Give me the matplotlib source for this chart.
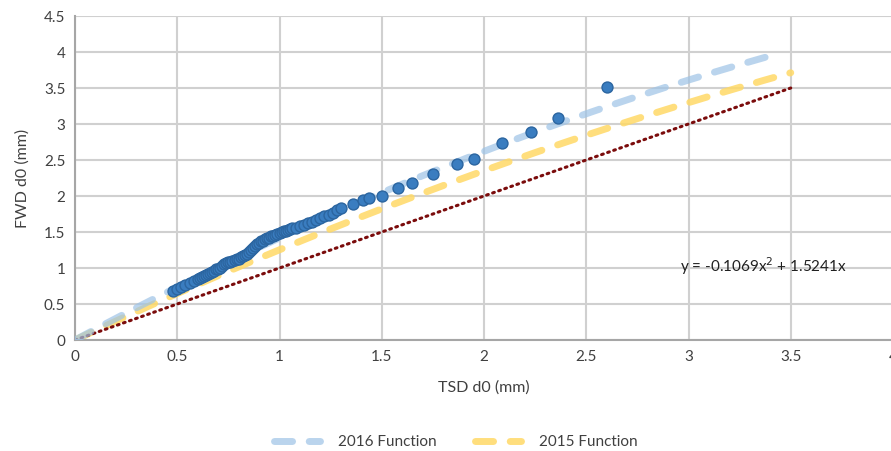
import numpy as np
import matplotlib.pyplot as plt

# TSD vs FWD central deflection (mm)
tsd_d0 = [0.48, 0.50, 0.52, 0.54, 0.56, 0.58, 0.60, 0.61, 0.62, 0.63, 0.64, 0.65,
          0.66, 0.67, 0.68, 0.69, 0.70, 0.71, 0.72, 0.73, 0.74, 0.75, 0.76, 0.77,
          0.78, 0.79, 0.80, 0.81, 0.82, 0.83, 0.84, 0.85, 0.86, 0.87, 0.88, 0.89,
          0.90, 0.91, 0.92, 0.93, 0.94, 0.95, 0.96, 0.97, 0.98, 0.99, 1.00, 1.01,
          1.02, 1.03, 1.04, 1.05, 1.06, 1.08, 1.10, 1.12, 1.14, 1.16, 1.18, 1.20,
          1.22, 1.24, 1.26, 1.28, 1.30, 1.36, 1.41, 1.44, 1.50, 1.58, 1.65, 1.75,
          1.87, 1.95, 2.09, 2.23, 2.36, 2.60]
fwd_d0 = [0.68, 0.71, 0.74, 0.76, 0.79, 0.82, 0.85, 0.86, 0.88, 0.89, 0.90, 0.92,
          0.93, 0.95, 0.96, 0.98, 0.99, 1.00, 1.03, 1.05, 1.07, 1.08, 1.09, 1.10,
          1.11, 1.12, 1.13, 1.15, 1.16, 1.18, 1.20, 1.22, 1.25, 1.28, 1.30, 1.33,
          1.35, 1.37, 1.38, 1.40, 1.41, 1.42, 1.44, 1.45, 1.46, 1.47, 1.49, 1.50,
          1.51, 1.52, 1.53, 1.54, 1.55, 1.56, 1.58, 1.60, 1.62, 1.64, 1.67, 1.70,
          1.72, 1.73, 1.76, 1.80, 1.84, 1.89, 1.95, 1.97, 2.00, 2.11, 2.18, 2.31,
          2.45, 2.52, 2.73, 2.89, 3.09, 3.52]

# quadratic functions y = a*x^2 + b*x
coef_2016 = (-0.1069, 1.5241)
coef_2015 = (-0.077, 1.33)
xmax_2016 = 3.4
xmax_2015 = 3.5
xmax_equal = 3.5

fig = plt.figure(figsize=(8.91, 4.51), dpi=100)
ax = fig.add_axes([75 / 891, 1 - 340 / 451, 818 / 891, 324 / 451])

txt = '#404040'
font = ['Lato', 'DejaVu Sans']

x16 = np.linspace(0, xmax_2016, 200)
ax.plot(x16, coef_2016[0] * x16**2 + coef_2016[1] * x16, color='#9dc3e6', alpha=0.7,
        lw=5, dashes=(2.6, 2.4), dash_capstyle='round', zorder=3, label='2016 Function')
x15 = np.linspace(0, xmax_2015, 200)
ax.plot(x15, coef_2015[0] * x15**2 + coef_2015[1] * x15, color='#ffd966', alpha=0.85,
        lw=5, dashes=(2.6, 2.4), dash_capstyle='round', zorder=2, label='2015 Function')
ax.plot([0, xmax_equal], [0, xmax_equal], color='#7b0c0c', lw=2.2, linestyle=(0, (0.6, 1.5)),
        dash_capstyle='round', zorder=2)
ax.scatter(tsd_d0, fwd_d0, s=62, color='#3a7dc0', edgecolor='#2b65a0', lw=1, zorder=4)

ax.set_xlim(0, 4)
ax.set_ylim(0, 4.5)
ax.set_xticks(np.arange(0, 4.01, 0.5))
ax.set_yticks(np.arange(0, 4.51, 0.5))
ax.set_xticklabels(['0', '0.5', '1', '1.5', '2', '2.5', '3', '3.5', '4'])
ax.set_yticklabels(['0', '0.5', '1', '1.5', '2', '2.5', '3', '3.5', '4', '4.5'])
ax.grid(True, color='#d0d0d0', lw=1.5)
ax.set_axisbelow(True)
for s in ['top', 'right']:
    ax.spines[s].set_visible(False)
for s in ['left', 'bottom']:
    ax.spines[s].set_color('#a6a6a6')
    ax.spines[s].set_linewidth(1.5)
ax.tick_params(length=0, labelsize=11, labelcolor=txt, pad=7)
for lab in ax.get_xticklabels() + ax.get_yticklabels():
    lab.set_family(font)

ax.set_xlabel('TSD d0 (mm)', fontsize=11.5, color=txt, family=font, labelpad=12)
ax.set_ylabel('FWD d0 (mm)', fontsize=11.5, color=txt, family=font, labelpad=10)

ax.text(2.96, 1.03, 'y = -0.1069x$^2$ + 1.5241x', fontsize=11, color='#202020',
        family=font, ha='left', va='center')

fig.legend(loc='center', bbox_to_anchor=(456 / 891, 1 - 442 / 451), ncol=2, frameon=False,
           prop={'family': font, 'size': 11}, labelcolor=txt, handlelength=3.0,
           columnspacing=2.5, handletextpad=1.2)

fig.savefig('out.png', dpi=100)
